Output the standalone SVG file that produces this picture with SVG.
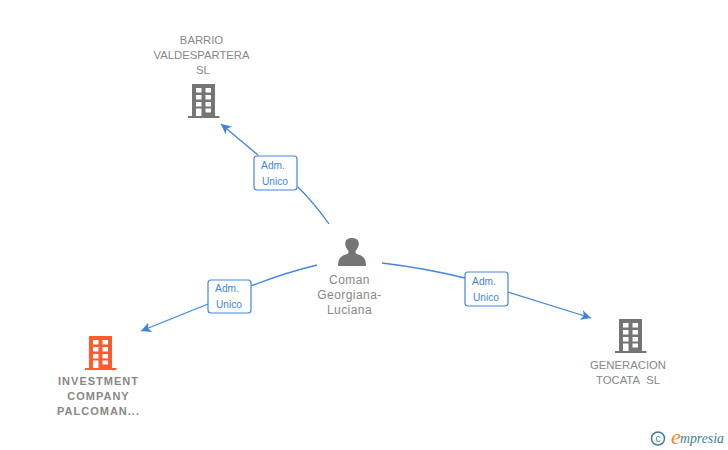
<svg xmlns="http://www.w3.org/2000/svg" width="728" height="450" viewBox="0 0 728 450">
<style>
text{font-family:"Liberation Sans",Arial,sans-serif}
.lbl{font-size:11.300px;fill:#878787;text-anchor:middle}
.p{font-size:12px;letter-spacing:.45px}
.b{font-size:11px;font-weight:bold;letter-spacing:1px}
.edge{fill:none;stroke:#4285e4;stroke-width:1.3}
.box{fill:#fff;stroke:#4285e4;stroke-width:1.2}
.tag{font-size:10.200px;fill:#4285e4;text-anchor:middle}
.logo{font-style:italic;fill:#3d8296}
</style>
<defs>
<marker id="arr" markerUnits="userSpaceOnUse" markerWidth="12" markerHeight="12" refX="10" refY="5" orient="auto" viewBox="0 0 12 10"><path d="M0 0L10 5L0 10L2.500 5Z" fill="#3f82e6"/></marker>
<path id="bld" fill-rule="evenodd" d="M4 0H27V32H31.500V34H0V32H4ZM8 4V8.500H13.500V4ZM17.500 4V8.500H23V4ZM8 11V15.500H13.500V11ZM17.500 11V15.500H23V11ZM8 18V22.500H13.500V18ZM17.500 18V22.500H23V18ZM8 24.500V32H13.500V24.500ZM17.500 24.500V28.500H23V24.500Z"/>
</defs>
<g id="connectors">
<path class="edge" d="M329 224Q315 204 298 187"/>
<path class="edge" marker-end="url(#arr)" d="M258 155L221 124"/>
<path class="edge" d="M317 265Q284 273 251 286"/>
<path class="edge" marker-end="url(#arr)" d="M208 304L141 331"/>
<path class="edge" d="M382 263Q424 268 465 278"/>
<path class="edge" marker-end="url(#arr)" d="M508 292L591 318"/>
</g>
<g id="tag-barrio"><rect class="box" x="254" y="156" width="43" height="34" rx="3"/><text class="tag" x="273" y="169">Adm.</text><text class="tag" x="275" y="184.500">Unico</text></g>
<g id="tag-investment"><rect class="box" x="208" y="280" width="43" height="33" rx="3"/><text class="tag" x="227" y="292">Adm.</text><text class="tag" x="229" y="307.500">Unico</text></g>
<g id="tag-generacion"><rect class="box" x="465" y="272" width="43" height="34" rx="3"/><text class="tag" x="484" y="285">Adm.</text><text class="tag" x="486" y="300.500">Unico</text></g>
<g id="node-barrio"><use href="#bld" x="188" y="84" fill="#757575"/><text class="lbl" x="201.500" y="44">BARRIO</text><text class="lbl" x="201.500" y="59">VALDESPARTERA</text><text class="lbl" x="203" y="74">SL</text></g>
<g id="node-investment"><use href="#bld" x="85" y="336" fill="#ff5b2e"/><text class="lbl b" x="98.500" y="385">INVESTMENT</text><text class="lbl b" x="98.500" y="400">COMPANY</text><text class="lbl b" x="98.500" y="415">PALCOMAN...</text></g>
<g id="node-coman"><path fill="#757575" d="M338 266C338 258 341 256 347 254C349 253 349 251 347 249C345 246 345 243 345.500 242C346 239 349 238 352 238C355 238 358 239 358.500 242C359 243 359 246 357 249C355 251 355 253 357 254C363 256 366 258 366 266Z"/><text class="lbl p" x="349.500" y="284">Coman</text><text class="lbl p" x="349.500" y="299">Georgiana-</text><text class="lbl p" x="349.500" y="314">Luciana</text></g>
<g id="node-generacion"><use href="#bld" x="615" y="319" fill="#757575"/><text class="lbl" x="628" y="369">GENERACION</text><text class="lbl" x="628" y="384">TOCATA&#160; SL</text></g>
<g id="logo"><circle cx="658" cy="438.500" r="6.500" fill="none" stroke="#3d7f96" stroke-width="1.500"/><text x="658" y="442" font-size="10" fill="#3d7f96" text-anchor="middle">c</text><text x="671" y="444" font-size="22" font-style="italic" fill="#f08a24" style="font-family:'Liberation Serif',serif">e</text><text class="logo" x="680" y="443" font-size="13.800" style="font-family:'Liberation Serif',serif">mpresia</text></g>
</svg>
